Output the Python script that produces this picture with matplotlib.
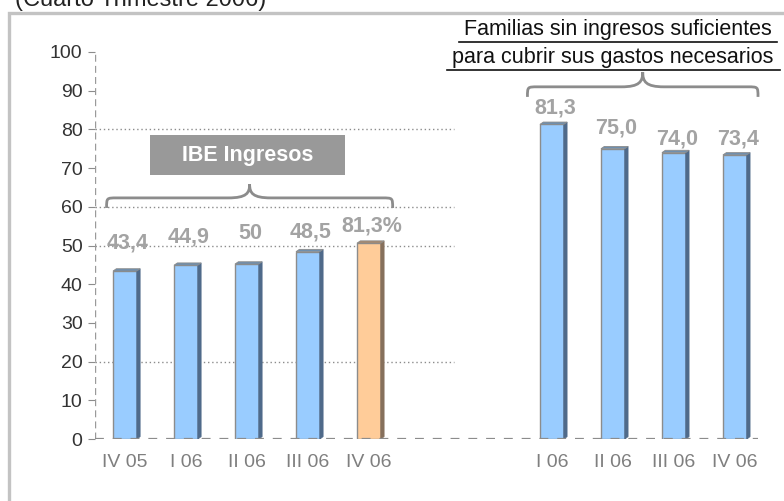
import matplotlib
matplotlib.use("Agg")
import matplotlib.pyplot as plt
from matplotlib.patches import Polygon, Rectangle, PathPatch
from matplotlib.path import Path
from matplotlib.lines import Line2D

plt.rcParams['font.family'] = ['Liberation Sans', 'DejaVu Sans']

# ---- data ----
left_labels = ["IV 05", "I 06", "II 06", "III 06", "IV 06"]
left_values = [43.4, 44.9, 45.2, 48.4, 50.6]
left_texts = ["43,4", "44,9", "50", "48,5", "81,3%"]
right_labels = ["I 06", "II 06", "III 06", "IV 06"]
right_values = [81.3, 75.0, 74.0, 73.4]
right_texts = ["81,3", "75,0", "74,0", "73,4"]
yticks = [0, 10, 20, 30, 40, 50, 60, 70, 80, 90, 100]
grid_levels = [20, 50, 60, 80]
box_title = "IBE Ingresos"
right_title = ["Familias sin ingresos suficientes", "para cubrir sus gastos necesarios"]
top_title = "(Cuarto Trimestre 2006)"

# ---- style ----
W, H = 784, 501
fig = plt.figure(figsize=(W / 100, H / 100), dpi=100)
ax_l, ax_b, ax_r, ax_t = 95, 439, 758, 52
ax = fig.add_axes([ax_l / W, 1 - ax_b / H, (ax_r - ax_l) / W, (ax_b - ax_t) / H])

left_x = list(range(len(left_values)))
right_x = [len(left_values) + 2 + i for i in range(len(right_values))]
ax.set_xlim(-0.49, 10.38)
ax.set_ylim(0, 100)

bar_w = 0.39
blue, blue_side, blue_top = "#99ccff", "#4f6a8a", "#6f8fae"
orange, orange_side, orange_top = "#ffcc99", "#86705c", "#a88a6e"
edge = "#8c8c8c"
dx, dy = 0.055, 0.6

def bar3d(x, v, face, side, top):
    ax.bar(x, v, width=bar_w, color=face, edgecolor=edge, linewidth=1.0, zorder=3)
    xr = x + bar_w / 2
    xl = x - bar_w / 2
    ax.add_patch(Polygon([(xr, 0), (xr + dx, dy), (xr + dx, v + dy), (xr, v)],
                         closed=True, facecolor=side, edgecolor=side, lw=0.5, zorder=3))
    ax.add_patch(Polygon([(xl, v), (xl + dx, v + dy), (xr + dx, v + dy), (xr, v)],
                         closed=True, facecolor=top, edgecolor=edge, lw=0.6, zorder=3))

left_colors = [(blue, blue_side, blue_top)] * (len(left_values) - 1) + [(orange, orange_side, orange_top)]
for x, v, c in zip(left_x, left_values, left_colors):
    bar3d(x, v, *c)
for x, v in zip(right_x, right_values):
    bar3d(x, v, blue, blue_side, blue_top)

lab_col = "#a3a3a3"
left_off = [28, 28, 31, 20, 17]
right_off = [16, 21, 14, 16]
for x, v, t, o in zip(left_x, left_values, left_texts, left_off):
    ax.annotate(t, (x, v), xytext=(3, o), textcoords="offset pixels", ha="center", va="center",
                fontsize=15.5, fontweight="bold", color=lab_col, zorder=5)
for x, v, t, o in zip(right_x, right_values, right_texts, right_off):
    ax.annotate(t, (x, v), xytext=(3, o), textcoords="offset pixels", ha="center", va="center",
                fontsize=15.5, fontweight="bold", color=lab_col, zorder=5)

# grid lines (dotted, partial)
for g in grid_levels:
    ax.plot([-0.49, 5.4], [g, g], linestyle=(0, (1, 2)), color="#8c8c8c", lw=1.0, zorder=1)

# axes styling
for s in ["top", "right", "left", "bottom"]:
    ax.spines[s].set_visible(False)
ax.axvline(-0.49, ymin=0, ymax=1, color="#9a9a9a", lw=1.0, linestyle=(0, (5, 3)), zorder=2)
ax.axhline(0, color="#8c8c8c", lw=1.6, linestyle=(0, (4, 4)), zorder=4)
ax.set_yticks(yticks)
ax.set_yticklabels([str(v) for v in yticks])
ax.tick_params(axis="y", length=5, width=0.8, color="#8c8c8c", labelcolor="#333333",
               labelsize=14, pad=4)
ax.set_xticks(left_x + right_x)
ax.set_xticklabels(left_labels + right_labels)
ax.tick_params(axis="x", length=0, labelcolor="#7f7f7f", labelsize=14, pad=11)

# braces
def brace(x0, x1, yb, ya, yt, r=0.17, r2=0.35):
    xm = (x0 + x1) / 2
    verts = [(x0, yb),
             (x0, ya), (x0, ya), (x0 + r, ya),
             (xm - r2, ya),
             (xm - r2 * 0.15, ya), (xm, ya + (yt - ya) * 0.35), (xm, yt),
             (xm, ya + (yt - ya) * 0.35), (xm + r2 * 0.15, ya), (xm + r2, ya),
             (x1 - r, ya),
             (x1, ya), (x1, ya), (x1, yb)]
    codes = [Path.MOVETO, Path.CURVE4, Path.CURVE4, Path.CURVE4, Path.LINETO,
             Path.CURVE4, Path.CURVE4, Path.CURVE4, Path.CURVE4, Path.CURVE4, Path.CURVE4,
             Path.LINETO, Path.CURVE4, Path.CURVE4, Path.CURVE4]
    ax.add_patch(PathPatch(Path(verts, codes), facecolor="none", edgecolor="#8c8c8c",
                           lw=2.0, clip_on=False, zorder=4))

brace(-0.3, 4.39, 59.7, 62.3, 65.8)
brace(6.6, 10.38, 88.4, 91.0, 94.8)

# IBE box
fig.add_artist(Rectangle((150 / W, 1 - 175 / H), (345 - 150) / W, 40 / H,
                         transform=fig.transFigure, facecolor="#999999", edgecolor="none"))
fig.text(248 / W, 1 - 155 / H, box_title, ha="center", va="center", color="white",
         fontsize=15.5, fontweight="bold")

# right title with underlines
fig.text(618 / W, 1 - 30 / H, right_title[0], ha="center", va="center", fontsize=15.5, color="#111111")
fig.text(613 / W, 1 - 58 / H, right_title[1], ha="center", va="center", fontsize=15.5, color="#111111")
fig.add_artist(Line2D([459 / W, 777 / W], [1 - 42 / H, 1 - 42 / H], transform=fig.transFigure,
                      color="#111111", lw=1.2))
fig.add_artist(Line2D([447 / W, 780 / W], [1 - 70 / H, 1 - 70 / H], transform=fig.transFigure,
                      color="#111111", lw=1.2))

# frame
fig.add_artist(Rectangle((9 / W, -20 / H), (800 - 9) / W, (H + 20 - 13) / H,
                         transform=fig.transFigure, facecolor="none", edgecolor="#c3c3c3", lw=2.4))

# top title, partly cut off at the top edge as in the reference
fig.text(15 / W, 1 - 6 / H, top_title, ha="left", va="baseline", fontsize=17, color="#222222")

fig.savefig("out.png", dpi=100)
